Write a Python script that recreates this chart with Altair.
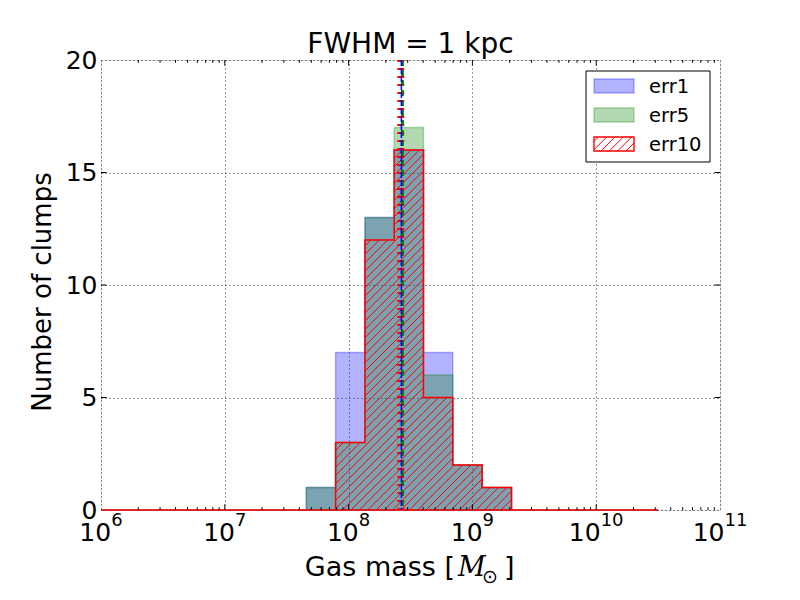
import math
import altair as alt
import pandas as pd

# ---------------- data ----------------
# bin edges as log10(mass)
bin_exp = [6.000, 6.237, 6.474, 6.711, 6.947, 7.184, 7.421, 7.658, 7.895, 8.132,
           8.368, 8.605, 8.842, 9.079, 9.316, 9.553, 9.789, 10.026, 10.263, 10.500]
err1 = [0, 0, 0, 0, 0, 0, 0, 1, 7, 13, 16, 7, 2, 1, 0, 0, 0, 0, 0]
err5 = [0, 0, 0, 0, 0, 0, 0, 1, 3, 13, 17, 6, 2, 1, 0, 0, 0, 0, 0]
err10 = [0, 0, 0, 0, 0, 0, 0, 0, 3, 12, 16, 5, 2, 1, 0, 0, 0, 0, 0]
median_vals = {"err1": 2.67e8, "err5": 2.72e8, "err10": 2.64e8}
series_names = ["err1", "err5", "err10"]
x_major = [1e6, 1e7, 1e8, 1e9, 1e10, 1e11]
x_exponents = ["6", "7", "8", "9", "10", "11"]
y_major = [0, 5, 10, 15, 20]

# ---------------- layout ----------------
W, H = 619, 450
FONT = "DejaVu Sans"
sx = W / 5.0    # px per decade
sy = H / 20.0   # px per count
HATCH = 100 / 12.0
TICK_FS = 25
SUP_FS = 18

xs = alt.Scale(type="log", domain=[1e6, 1e11], nice=False)
ys = alt.Scale(domain=[0, 20], nice=False, zero=False)

xaxis = alt.Axis(values=x_major, labels=False, grid=True, ticks=False, domain=False,
                 gridColor="black", gridDash=[1, 3], gridWidth=0.8, gridOpacity=1, title=None)
yaxis = alt.Axis(values=y_major, grid=True, ticks=False, domain=False,
                 labelFont=FONT, labelFontSize=TICK_FS, labelColor="black", labelPadding=4,
                 gridColor="black", gridDash=[1, 3], gridWidth=0.8, gridOpacity=1,
                 labelFlush=False, labelOverlap=False, title=None)


def X(f):
    return alt.X(f, type="quantitative", scale=xs, axis=xaxis)


def Y(f):
    return alt.Y(f, type="quantitative", scale=ys, axis=yaxis)


def step_df(counts):
    xs_ = [10 ** e for e in bin_exp]
    ys_ = list(counts) + [0]
    return pd.DataFrame({"x": xs_, "y": ys_})


one = pd.DataFrame({"a": [0]})

layers = []
# filled histograms
layers.append(alt.Chart(step_df(err1)).mark_area(
    interpolate="step-after", fill="blue", fillOpacity=0.3,
    stroke="blue", strokeOpacity=0.3, strokeWidth=1.4).encode(x=X("x"), y=Y("y")))
layers.append(alt.Chart(step_df(err5)).mark_area(
    interpolate="step-after", fill="green", fillOpacity=0.3,
    stroke="green", strokeOpacity=0.3, strokeWidth=1.4).encode(x=X("x"), y=Y("y")))

# hatching for err10
segs = []
for i, c in enumerate(err10):
    if c <= 0:
        continue
    u0 = (bin_exp[i] - 6) * sx
    u1 = (bin_exp[i + 1] - 6) * sx
    vh = c * sy
    kmin = math.ceil((u0 - vh) / HATCH)
    kmax = math.floor(u1 / HATCH)
    for k in range(kmin, kmax + 1):
        cc = k * HATCH
        va = max(0.0, u0 - cc)
        vb = min(vh, u1 - cc)
        if vb - va > 0.5:
            segs.append({"x1": 10 ** (6 + (va + cc) / sx), "y1": va / sy,
                         "x2": 10 ** (6 + (vb + cc) / sx), "y2": vb / sy})
hatch_df = pd.DataFrame(segs)
layers.append(alt.Chart(hatch_df).mark_rule(color="red", strokeWidth=1).encode(
    x=X("x1"), x2="x2", y=Y("y1"), y2="y2"))
layers.append(alt.Chart(step_df(err10)).mark_area(
    interpolate="step-after", fill="transparent", fillOpacity=0,
    stroke="red", strokeWidth=1.5).encode(x=X("x"), y=Y("y")))

# median lines
layers.append(alt.Chart(pd.DataFrame({"x": [median_vals["err10"]]})).mark_rule(
    color="red", strokeWidth=7, strokeDash=[2, 6]).encode(x=X("x")))
layers.append(alt.Chart(pd.DataFrame({"x": [median_vals["err5"]]})).mark_rule(
    color="green", strokeWidth=3, strokeDash=[6, 4]).encode(x=X("x")))
layers.append(alt.Chart(pd.DataFrame({"x": [median_vals["err1"]]})).mark_rule(
    color="blue", strokeWidth=1.5, strokeDash=[6, 2]).encode(x=X("x")))

# inward ticks
maj_x = pd.DataFrame({"v": x_major[1:-1]})
min_x = pd.DataFrame({"v": [k * 10 ** d for d in range(6, 11) for k in range(2, 10)]})
maj_y = pd.DataFrame({"v": y_major[1:-1]})
for df, L in ((maj_x, 5.6), (min_x, 2.8)):
    layers.append(alt.Chart(df).mark_rule(color="black", strokeWidth=1).encode(
        x=X("v"), y=alt.value(H), y2=alt.value(H - L)))
    layers.append(alt.Chart(df).mark_rule(color="black", strokeWidth=1).encode(
        x=X("v"), y=alt.value(0), y2=alt.value(L)))
layers.append(alt.Chart(maj_y).mark_rule(color="black", strokeWidth=1).encode(
    y=Y("v"), x=alt.value(0), x2=alt.value(5.6)))
layers.append(alt.Chart(maj_y).mark_rule(color="black", strokeWidth=1).encode(
    y=Y("v"), x=alt.value(W), x2=alt.value(W - 5.6)))

# x tick labels: "10" with superscript exponent, centred as a whole on the tick
tick_df = pd.DataFrame({"v": x_major, "base": ["10"] * len(x_major), "sup": x_exponents})
tick_df["n"] = tick_df["sup"].str.len()
base_w = 1.272 * TICK_FS
for n in (1, 2):
    sup_w = 0.636 * SUP_FS * n
    right = (base_w + sup_w) / 2 - sup_w
    sub = tick_df[tick_df["n"] == n]
    layers.append(alt.Chart(sub).mark_text(font=FONT, fontSize=TICK_FS, align="right",
                                           baseline="alphabetic", color="black",
                                           dx=right).encode(
        x=X("v"), y=alt.value(H + 31), text="base:N"))
    layers.append(alt.Chart(sub).mark_text(font=FONT, fontSize=SUP_FS, align="left",
                                           baseline="alphabetic", color="black",
                                           dx=right).encode(
        x=X("v"), y=alt.value(H + 16), text="sup:N"))

# legend
LX0, LY0, LX1, LY1 = 485, 11, 609, 102
layers.append(alt.Chart(one).mark_rect(fill="white", stroke="black", strokeWidth=1).encode(
    x=alt.value(LX0), x2=alt.value(LX1), y=alt.value(LY0), y2=alt.value(LY1)))
px0, px1 = 493, 533
rows = [19, 48, 77]
ph = 14
styles = [("blue", 0.3), ("green", 0.3)]
for name, r, st in zip(series_names[:2], rows[:2], styles):
    layers.append(alt.Chart(one).mark_rect(fill=st[0], fillOpacity=st[1], stroke=st[0],
                                           strokeOpacity=0.3, strokeWidth=1.4).encode(
        x=alt.value(px0), x2=alt.value(px1), y=alt.value(r), y2=alt.value(r + ph)))
r = rows[2]
for k in range(-40, 80):
    cc = k * HATCH
    va = max(0.0, px0 - cc)
    vb = min(ph, px1 - cc)
    if vb - va > 0.5:
        layers.append(alt.Chart(one).mark_rule(color="red", strokeWidth=1).encode(
            x=alt.value(va + cc), x2=alt.value(vb + cc),
            y=alt.value(r + ph - va), y2=alt.value(r + ph - vb)))
layers.append(alt.Chart(one).mark_rect(fill="transparent", stroke="red", strokeWidth=1.4).encode(
    x=alt.value(px0), x2=alt.value(px1), y=alt.value(r), y2=alt.value(r + ph)))
for name, r in zip(series_names, rows):
    layers.append(alt.Chart(one).mark_text(font=FONT, fontSize=19.5, align="left",
                                           baseline="middle", color="black").encode(
        x=alt.value(548), y=alt.value(r + ph / 2 + 1), text=alt.value(name)))

# title and axis titles
layers.append(alt.Chart(one).mark_text(font=FONT, fontSize=28, align="center",
                                       baseline="alphabetic", color="black").encode(
    x=alt.value(W / 2), y=alt.value(-7), text=alt.value("FWHM = 1 kpc")))
layers.append(alt.Chart(one).mark_text(font=FONT, fontSize=26, align="center", angle=270,
                                       baseline="middle", color="black").encode(
    x=alt.value(-58), y=alt.value(H / 2 + 7), text=alt.value("Number of clumps")))
XB = 516
XM = 354
layers.append(alt.Chart(one).mark_text(font=FONT, fontSize=27, align="right",
                                       baseline="alphabetic", color="black").encode(
    x=alt.value(XM), y=alt.value(XB), text=alt.value("Gas mass [")))
layers.append(alt.Chart(one).mark_text(font="DejaVu Serif", fontStyle="italic", fontSize=27,
                                       align="left", baseline="alphabetic", color="black").encode(
    x=alt.value(XM + 3), y=alt.value(XB), text=alt.value("M")))
layers.append(alt.Chart(one).mark_text(font=FONT, fontSize=19, align="left",
                                       baseline="alphabetic", color="black").encode(
    x=alt.value(XM + 27), y=alt.value(XB + 7), text=alt.value("⊙")))
layers.append(alt.Chart(one).mark_text(font=FONT, fontSize=27, align="left",
                                       baseline="alphabetic", color="black").encode(
    x=alt.value(XM + 49), y=alt.value(XB), text=alt.value("]")))

chart = alt.layer(*layers).properties(
    width=W, height=H,
    autosize=alt.AutoSizeParams(type="none"),
    padding={"left": 93, "top": 52, "right": 72, "bottom": 82},
).configure_view(stroke="black", strokeWidth=1).configure(background="white")

chart.save("out.html", embed_options={"renderer": "svg", "actions": False})
